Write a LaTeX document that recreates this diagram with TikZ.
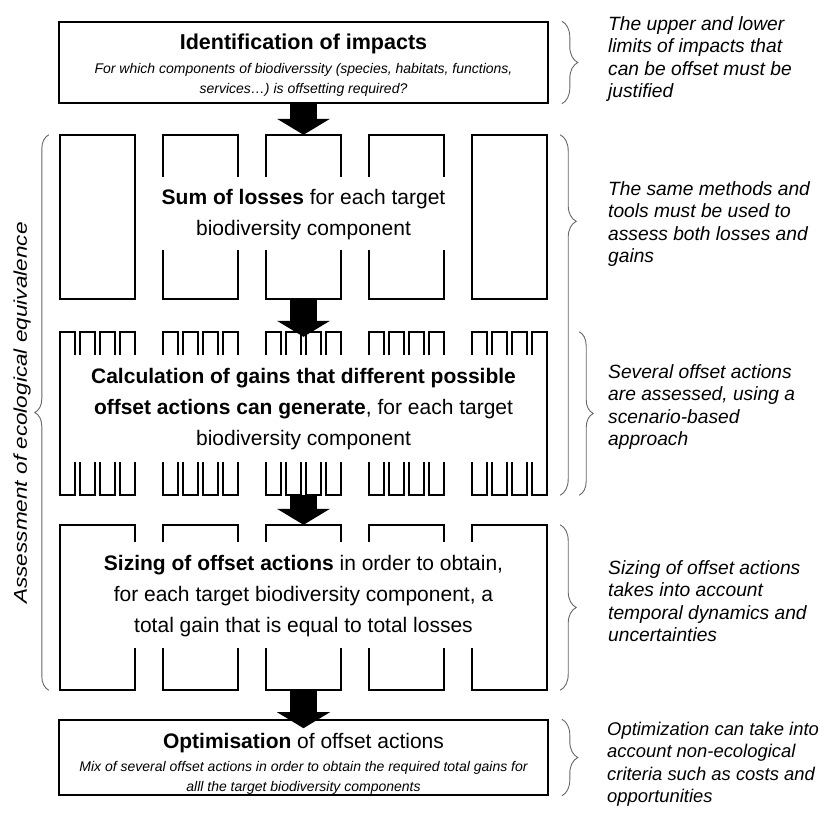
\documentclass[tikz,border=0pt]{standalone}
\usepackage{fontspec}
\setmainfont{Liberation Sans}
\usepackage{tikz}
\usetikzlibrary{arrows.meta}
\usetikzlibrary{decorations.pathreplacing}

\begin{document}
\begin{tikzpicture}[x=1pt,y=-1pt,
    main_box/.style={draw,line width=1.6pt,minimum width=489pt,inner sep=0pt},
    band/.style={minimum width=487pt,inner sep=0pt},
    title_text/.style={font=\fontsize{21}{31}\selectfont,align=center,inner sep=0pt},
    sub_text/.style={font=\fontsize{14}{20}\selectfont\itshape,align=center,inner sep=0pt},
    note_text/.style={font=\fontsize{19.2}{22.5}\selectfont\itshape,align=left,anchor=west,inner sep=0pt},
    wall/.style={line width=1.6pt,line join=miter},
    big_arrow/.style={line width=27pt,-{Triangle[width=53pt,length=16pt,line width=0pt]}},
    brace_line/.style={decorate,line width=0.9pt,black!60}]

    \useasboundingbox (0,0) rectangle (826,816);

    \node[main_box,minimum height=81pt] (impacts) at (303.5,62.5) {};
    \node[band,minimum height=164pt] (losses) at (303.5,217) {};
    \node[band,minimum height=163pt] (gains) at (303.5,413.5) {};
    \node[band,minimum height=165pt] (sizing) at (303.5,607.5) {};
    \node[main_box,minimum height=75pt] (optim) at (303.5,757.5) {};

    \node[title_text,font=\fontsize{21.5}{31}\selectfont\bfseries] (impacts_title) at (303.5,44) {Identification of impacts};
    \node[sub_text] (impacts_sub) at (303.5,80) {For which components of biodiverssity (species, habitats, functions,\\services…) is offsetting required?};
    \node[title_text] (losses_title) at (303.5,215) {\textbf{Sum of losses} for each target\\biodiversity component};
    \node[title_text] (gains_title) at (303.5,409) {\textbf{Calculation of gains that different possible}\\\textbf{offset actions can generate}, for each target\\biodiversity component};
    \node[title_text] (sizing_title) at (303.5,596) {\textbf{Sizing of offset actions} in order to obtain,\\for each target biodiversity component, a\\total gain that is equal to total losses};
    \node[title_text] (optim_title) at (303.5,743) {\textbf{Optimisation} of offset actions};
    \node[sub_text] (optim_sub) at (303.5,778) {Mix of several offset actions in order to obtain the required total gains for\\alll the target biodiversity components};

    \foreach \i in {0,...,4}{
        \pgfmathsetmacro{\xl}{60+103*\i}
        \pgfmathsetmacro{\xr}{\xl+75}
        \draw[wall] (\xl,177) -- (\xl,135) -- (\xr,135) -- (\xr,177);
        \draw[wall] (\xl,250) -- (\xl,299) -- (\xr,299) -- (\xr,250);
        \draw[wall] (\xl,542) -- (\xl,525) -- (\xr,525) -- (\xr,542);
        \draw[wall] (\xl,648) -- (\xl,690) -- (\xr,690) -- (\xr,648);
        \foreach \j in {0,...,3}{
            \pgfmathsetmacro{\tl}{\xl+20*\j}
            \pgfmathsetmacro{\tr}{\tl+15}
            \draw[wall] (\tl,355) -- (\tl,332) -- (\tr,332) -- (\tr,355);
            \draw[wall] (\tl,462) -- (\tl,495) -- (\tr,495) -- (\tr,462);
        }
    }
    \draw[wall] (60,177) -- (60,250) (135,177) -- (135,250) (472,177) -- (472,250) (547,177) -- (547,250);
    \draw[wall] (60,355) -- (60,462) (547,355) -- (547,462);
    \draw[wall] (60,542) -- (60,648) (547,542) -- (547,648);

    \draw[big_arrow] (impacts.south) -- (losses.north);
    \draw[big_arrow] (losses.south) -- ([yshift=-5pt]gains.north);
    \draw[big_arrow] (gains.south) -- (sizing.north);
    \draw[big_arrow] (sizing.south) -- ([yshift=-9pt]optim.north);

    \draw[brace_line,decoration={brace,amplitude=16pt}] ([xshift=13pt]impacts.north east) -- ([xshift=13pt]impacts.south east);
    \draw[brace_line,decoration={brace,amplitude=16pt,aspect=0.24}] ([xshift=13pt]losses.north east) -- ([xshift=13pt]gains.south east);
    \draw[brace_line,decoration={brace,amplitude=14pt}] ([xshift=32pt]gains.north east) -- ([xshift=32pt]gains.south east);
    \draw[brace_line,decoration={brace,amplitude=16pt}] ([xshift=13pt]sizing.north east) -- ([xshift=13pt]sizing.south east);
    \draw[brace_line,decoration={brace,amplitude=16pt}] ([xshift=13pt]optim.north east) -- ([xshift=13pt]optim.south east);
    \draw[brace_line,decoration={brace,amplitude=14pt}] ([xshift=-11pt]sizing.south west) -- ([xshift=-11pt]losses.north west);

    \node[rotate=90,inner sep=0pt,font=\fontsize{18.5}{22}\selectfont\itshape] (equiv_label) at (22,413) {\scalebox{1.22}[1]{Assessment of ecological equivalence}};

    \node[note_text] (limits_note) at (608,59) {The upper and lower\\limits of impacts that\\can be offset must be\\justified};
    \node[note_text] (methods_note) at (608,224) {The same methods and\\tools must be used to\\assess both losses and\\gains};
    \node[note_text] (scenario_note) at (608,407) {Several offset actions\\are assessed, using a\\scenario-based\\approach};
    \node[note_text] (sizing_note) at (608,601) {Sizing of offset actions\\takes into account\\temporal dynamics and\\uncertainties};
    \node[note_text,font=\fontsize{18.4}{22.5}\selectfont\itshape] (optim_note) at (607,764) {Optimization can take into\\account non-ecological\\criteria such as costs and\\opportunities};
\end{tikzpicture}
\end{document}
